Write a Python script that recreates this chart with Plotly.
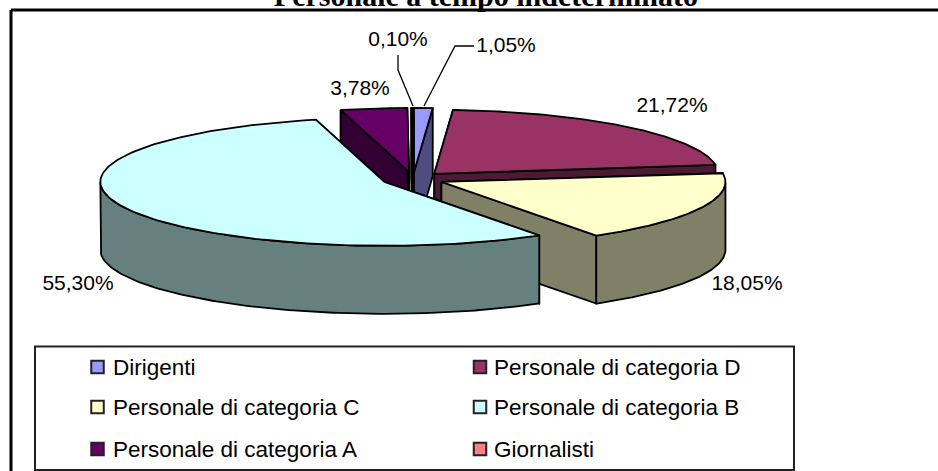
import numpy as np
import plotly.graph_objects as go

TITLE = "Personale a tempo indeterminato"
categories = ["Dirigenti", "Personale di categoria D", "Personale di categoria C",
              "Personale di categoria B", "Personale di categoria A", "Giornalisti"]
values = [1.05, 21.72, 18.05, 55.30, 3.78, 0.10]
top_colors = ["#9999FF", "#993366", "#FFFFCC", "#CCFFFF", "#660066", "#FF8080"]
side_colors = ["#4D4D80", "#4D1A33", "#808066", "#668080", "#330033", "#804040"]

# Pie projection, in plot units (axes run 0..938 and 471..0)
CX, CY, RX, RY, DEPTH, EXPLODE = 413, 179, 284, 64, 68, 0.11
DRAW_ORDER = [4, 5, 0, 1, 2, 3]
LINE = dict(color="#000000", width=1.8)

label_pos = {0: (506, 47), 1: (672, 107), 2: (747, 285), 3: (78, 285), 4: (360, 90), 5: (398, 41)}
leaders = {0: ([424, 455, 474], [106, 46, 46]), 5: ([413, 398, 398], [106, 70, 55])}
legend_cells = [(97.5, 113, 369), (480, 494, 369), (97.5, 113, 409),
                (480, 494, 409), (97.5, 113, 451), (480, 494, 451)]
MARKER_NUDGE = -2

edges = np.concatenate([[0], np.cumsum(values)]) / sum(values) * 2 * np.pi


def rim(t, ax, ay, dz=0):
    return ax + RX * np.sin(t), ay - RY * np.cos(t) + dz


def poly(fig, xs, ys, color):
    fig.add_trace(go.Scatter(x=list(xs), y=list(ys), mode="lines", fill="toself", fillcolor=color,
                             line=LINE, hoverinfo="skip", showlegend=False))


fig = go.Figure()
for i in DRAW_ORDER:
    a, b = edges[i], edges[i + 1]
    mid = (a + b) / 2
    ax = CX + EXPLODE * RX * np.sin(mid)
    ay = CY - EXPLODE * RY * np.cos(mid)
    # radial walls
    for t in (a, b):
        rx, ry = rim(t, ax, ay)
        poly(fig, [ax, rx, rx, ax, ax], [ay, ry, ry + DEPTH, ay + DEPTH, ay], side_colors[i])
    # outer wall: the part of the arc facing the viewer
    lo, hi = max(a, np.pi / 2), min(b, 3 * np.pi / 2)
    if hi > lo:
        t = np.linspace(lo, hi, 120)
        x1, y1 = rim(t, ax, ay)
        poly(fig, np.r_[x1, x1[::-1], x1[0]], np.r_[y1, y1[::-1] + DEPTH, y1[0]], side_colors[i])
    # top face
    t = np.linspace(a, b, 160)
    x1, y1 = rim(t, ax, ay)
    poly(fig, np.r_[ax, x1, ax], np.r_[ay, y1, ay], top_colors[i])

# leader lines
for i, (lx, ly) in leaders.items():
    fig.add_trace(go.Scatter(x=lx, y=ly, mode="lines", line=dict(color="#000000", width=1.3),
                             hoverinfo="skip", showlegend=False))

# data labels
fig.add_trace(go.Scatter(
    x=[label_pos[i][0] for i in range(6)], y=[label_pos[i][1] for i in range(6)],
    mode="text", text=[f"{v:.2f}".replace(".", ",") + "%" for v in values],
    textposition="middle center", hoverinfo="skip", showlegend=False,
    textfont=dict(family="Liberation Sans", size=21, color="#000000")))

# legend entries
for i, (mx, tx, y) in enumerate(legend_cells):
    fig.add_trace(go.Scatter(x=[mx], y=[y + MARKER_NUDGE], mode="markers", hoverinfo="skip", showlegend=False,
                             marker=dict(symbol="square", size=12.5, color=top_colors[i],
                                         line=dict(color="#222222", width=2))))
    fig.add_trace(go.Scatter(x=[tx], y=[y], mode="text", text=[categories[i]], textposition="middle right",
                             hoverinfo="skip", showlegend=False,
                             textfont=dict(family="Liberation Sans", size=22.5, color="#000000")))

fig.update_layout(
    width=938, height=471, autosize=False, margin=dict(l=0, r=0, t=0, b=0),
    paper_bgcolor="#FFFFFF", plot_bgcolor="#FFFFFF", showlegend=False,
    title=dict(text=f"<b>{TITLE}</b>", x=0.518, xanchor="center", y=0.987, yanchor="bottom", yref="container",
               automargin=False, font=dict(family="Liberation Serif", size=30, color="#000000")),
    xaxis=dict(range=[0, 938], visible=False, fixedrange=True),
    yaxis=dict(range=[471, 0], visible=False, fixedrange=True),
    shapes=[
        dict(type="line", x0=11, x1=938, y0=10, y1=10, line=dict(color="#000000", width=3), layer="below"),
        dict(type="line", x0=11, x1=11, y0=10, y1=471, line=dict(color="#000000", width=3), layer="below"),
        dict(type="rect", x0=35, x1=794, y0=346.5, y1=470, line=dict(color="#222222", width=2),
             fillcolor="#FFFFFF", layer="below"),
    ],
)
fig.write_html("out.html", config={"displayModeBar": False},
               post_script="document.body.style.margin='0';document.documentElement.style.overflow='hidden';")
